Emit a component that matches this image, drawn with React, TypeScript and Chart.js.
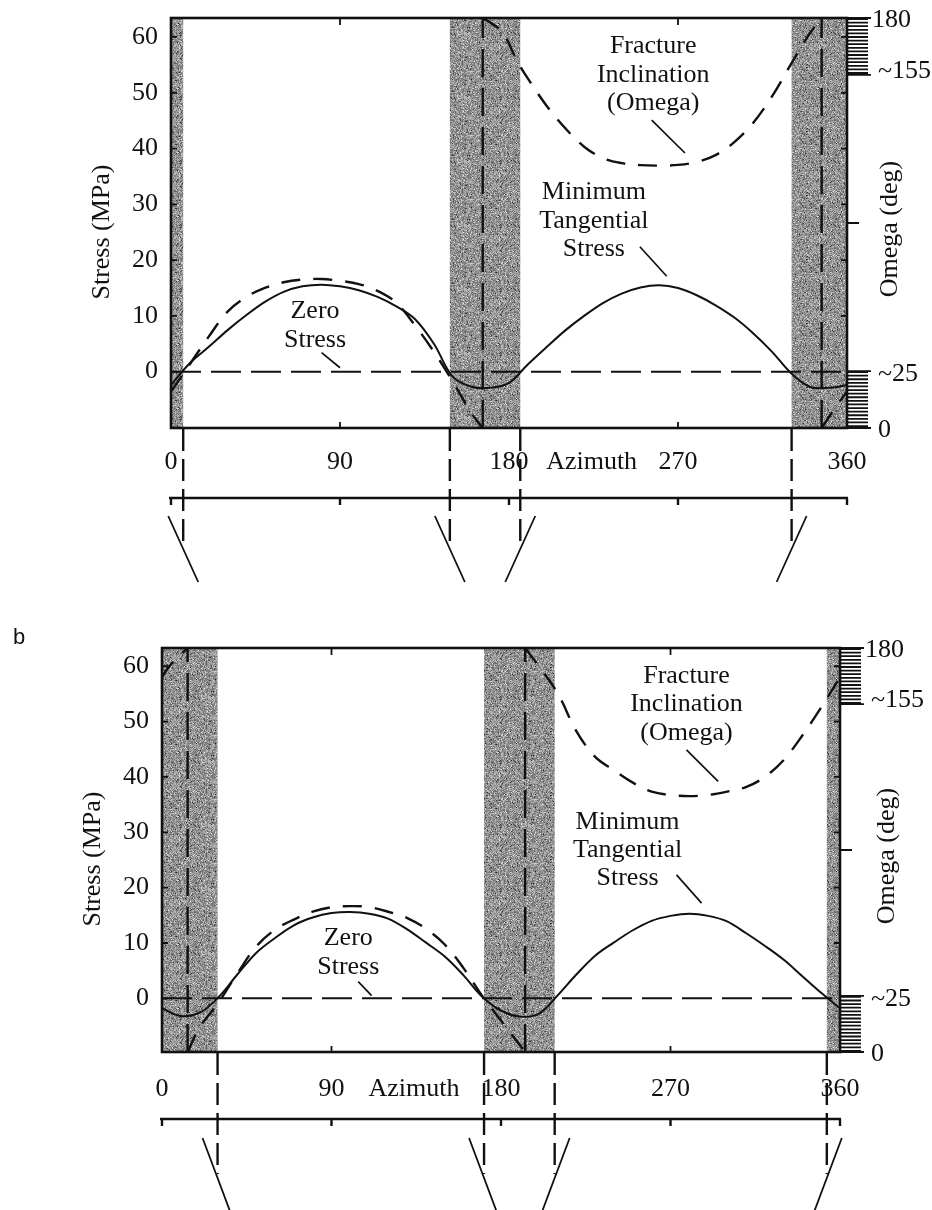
import { useEffect, useRef } from "react";
import { Chart, registerables } from "chart.js";

Chart.register(...registerables);

const SERIF = '"Liberation Serif", "Times New Roman", serif';
const INK = "#111111";

// ---- shared axes ----
const azimuthTicks = [0, 90, 180, 270, 360];
const azimuthTickLabels = ["0", "90", "180", "270", "360"];
const frameAzimuthTicks = [90, 270];
const stressTicks = [0, 10, 20, 30, 40, 50, 60];
const stressTickLabels = ["0", "10", "20", "30", "40", "50", "60"];
const omegaMarks = [180, 155, 25, 0];
const omegaMarkLabels = ["180", "~155", "~25", "0"];
const omegaHatchRanges = [[155, 180], [0, 25]];
const omegaMidTick = 90;

// azimuth samples (deg) for the stress curves
const azimuthSamples = [
  0, 10, 20, 30, 40, 50, 60, 70, 80, 90, 100, 110, 120, 130, 140, 150, 160, 170, 180,
  190, 200, 210, 220, 230, 240, 250, 260, 270, 280, 290, 300, 310, 320, 330, 340, 350, 360,
];

// ---- panel a ----
const stressA = [
  -2.4, 1.5, 4.4, 7.4, 10.1, 12.5, 14.3, 15.3, 15.6, 15.3, 14.6, 13.4, 11.7, 9.4, 5.0, -0.9, -2.7, -2.9, -2.0,
  1.3, 4.4, 7.4, 10.0, 12.3, 14.0, 15.1, 15.5, 15.0, 13.7, 11.9, 9.7, 6.9, 3.6, -0.2, -2.7, -2.9, -2.4,
];
const omegaA1Az = [0, 10, 20, 30, 40, 50, 60, 70, 80, 90, 100, 110, 120, 130, 140, 150, 160, 166];
const omegaA1 = [16, 28, 40, 51, 57.5, 61.5, 64, 65.2, 65.4, 64.6, 63.2, 60.2, 55, 45, 33.5, 20.5, 6.5, 0];
const omegaA2Az = [166, 170, 177, 184, 190, 200, 210, 220, 230, 240, 250, 260, 270, 280, 290, 300, 310, 320, 330, 340, 346.5];
const omegaA2 = [180, 178, 173.3, 161.6, 153.5, 141.5, 131.6, 123.5, 118.5, 116.3, 115.4, 115.2, 115.5, 116.8, 119.8, 125.5, 133.9, 145.5, 159.5, 173, 180];
const omegaA3Az = [346.5, 353, 360];
const omegaA3 = [0, 8, 16];
const omegaWrapA = [166, 346.5];
const zeroCrossA = [6.5, 148.5, 186, 330.5];
const bandsA = [[0, 6.5], [148.5, 186], [330.5, 360]];

// ---- panel b ----
const stressB = [
  -1.8, -3.2, -2.6, 0.2, 4.3, 8.2, 10.9, 13.2, 14.6, 15.4, 15.6, 15.3, 14.4, 12.5, 10.1, 7.6, 4.2, 0.3, -2.2,
  -3.3, -2.8, 0.5, 4.3, 7.7, 10.1, 12.3, 14.0, 14.9, 15.3, 14.9, 13.9, 11.8, 9.5, 7.0, 4.0, 1.0, -1.8,
];
const omegaB1Az = [13.6, 20, 30, 40, 50, 60, 70, 80, 90, 100, 110, 120, 130, 140, 150, 160, 170, 180, 192.8];
const omegaB1 = [0, 11, 22, 35, 47, 54.5, 59, 62.5, 64.5, 65, 64.6, 62.5, 59.8, 55, 48, 37.5, 25, 14, 0];
const omegaB2Az = [192.8, 200, 210, 220, 230, 240, 250, 260, 270, 280, 290, 300, 310, 320, 330, 340, 350, 360];
const omegaB2 = [180, 172, 160, 143, 131.5, 125.5, 120, 116, 114.5, 114, 114.5, 116, 118, 122.5, 130, 141, 153.5, 167];
const omegaB3Az = [0, 5, 13.6];
const omegaB3 = [167, 173, 180];
const omegaWrapB = [13.6, 192.8];
const zeroCrossB = [29.5, 171, 208.5, 353];
const bandsB = [[0, 29.5], [171, 208.5], [353, 360]];

// ---- annotation text, anchored in (azimuth, stress) ----
const notesA = [
  { lines: ["Zero", "Stress"], az: 76.7, stress: 10.8, leader: [80.2, 3.4, 90, 0.7] },
  { lines: ["Minimum", "Tangential", "Stress"], az: 225.2, stress: 32.1, leader: [249.7, 22.4, 264, 17.1] },
  { lines: ["Fracture", "Inclination", "(Omega)"], az: 256.8, stress: 58.3, leader: [256, 45.1, 273.7, 39.2] },
];
const notesB = [
  { lines: ["Zero", "Stress"], az: 98.9, stress: 10.8, leader: [104.2, 3.0, 111.3, 0.5] },
  { lines: ["Minimum", "Tangential", "Stress"], az: 247.2, stress: 31.9, leader: [273.2, 22.3, 286.5, 17.2] },
  { lines: ["Fracture", "Inclination", "(Omega)"], az: 278.5, stress: 58.2, leader: [278.5, 44.9, 295.3, 39.2] },
];

const toPoints = (xs: number[], ys: number[]) => xs.map((x, i) => ({ x, y: ys[i] }));

type PanelCfg = {
  key: string;
  canvasTop: number;
  height: number;
  pad: { left: number; right: number; top: number; bottom: number };
  stressMin: number;
  stressMax: number;
  stress: number[];
  omegaBranches: [number[], number[]][];
  omegaWraps: number[];
  crossings: number[];
  bands: number[][];
  notes: { lines: string[]; az: number; stress: number; leader: number[] }[];
  azimuthTitleAz: number;
  labelGap: number;
  rulerGap: number;
  dropLen: number;
  slantCenter: number;
  slantHalfH: number;
  slantHalfW: number;
  stressTitleX: number;
  omegaTitleDx: number;
  tag?: string;
};

const panels: PanelCfg[] = [
  {
    key: "a",
    canvasTop: 0,
    height: 600,
    pad: { left: 171, right: 85, top: 18, bottom: 172 },
    stressMin: -10.1,
    stressMax: 63.4,
    stress: stressA,
    omegaBranches: [[omegaA1Az, omegaA1], [omegaA2Az, omegaA2], [omegaA3Az, omegaA3]],
    omegaWraps: omegaWrapA,
    crossings: zeroCrossA,
    bands: bandsA,
    notes: notesA,
    azimuthTitleAz: 224,
    labelGap: 34,
    rulerGap: 70,
    dropLen: 120,
    slantCenter: 121,
    slantHalfH: 33,
    slantHalfW: 15,
    stressTitleX: 102,
    omegaTitleDx: 43,
  },
  {
    key: "b",
    canvasTop: 600,
    height: 610,
    pad: { left: 162, right: 92, top: 48, bottom: 158 },
    stressMin: -9.7,
    stressMax: 63.3,
    stress: stressB,
    omegaBranches: [[omegaB1Az, omegaB1], [omegaB2Az, omegaB2], [omegaB3Az, omegaB3]],
    omegaWraps: omegaWrapB,
    crossings: zeroCrossB,
    bands: bandsB,
    notes: notesB,
    azimuthTitleAz: 133.8,
    labelGap: 37,
    rulerGap: 67,
    dropLen: 122,
    slantCenter: 126,
    slantHalfH: 40,
    slantHalfW: 15,
    stressTitleX: 93,
    omegaTitleDx: 47,
    tag: "b",
  },
];

// grainy grey fill for the shaded azimuth bands
function makeStipple(ctx: CanvasRenderingContext2D) {
  const size = 64;
  const c = document.createElement("canvas");
  c.width = size;
  c.height = size;
  const g = c.getContext("2d")!;
  const img = g.createImageData(size, size);
  for (let yy = 0; yy < size; yy++) {
    for (let xx = 0; xx < size; xx++) {
      let h = Math.imul(xx + 1, 374761393) ^ Math.imul(yy + 7, 668265263);
      h = Math.imul(h ^ (h >>> 13), 1274126177);
      h ^= h >>> 16;
      const v = (h >>> 0) & 255;
      let gray = 98 + Math.round(v * 0.38);
      if (v > 248) gray = 225;
      if (v < 8) gray = 55;
      const i = (yy * size + xx) * 4;
      img.data[i] = gray;
      img.data[i + 1] = gray;
      img.data[i + 2] = gray;
      img.data[i + 3] = 255;
    }
  }
  g.putImageData(img, 0, 0);
  return ctx.createPattern(c, "repeat");
}

function decorPlugin(p: PanelCfg) {
  return {
    id: "panelDecor",
    beforeDatasetsDraw(chart: any) {
      const { ctx, chartArea } = chart;
      const { top, bottom } = chartArea;
      const xs = chart.scales.x;
      ctx.save();
      ctx.fillStyle = makeStipple(ctx) || "#8c8c8c";
      for (const [a, b] of p.bands) {
        const x0 = xs.getPixelForValue(a);
        const x1 = xs.getPixelForValue(b);
        ctx.fillRect(x0, top, x1 - x0, bottom - top);
      }
      ctx.restore();
    },
    afterDatasetsDraw(chart: any) {
      const { ctx, chartArea } = chart;
      const { left, right, top, bottom } = chartArea;
      const xs = chart.scales.x;
      const ys = chart.scales.y;
      const yo = chart.scales.y2;
      ctx.save();
      ctx.strokeStyle = INK;
      ctx.fillStyle = INK;
      ctx.lineCap = "butt";

      // frame
      ctx.lineWidth = 2.6;
      ctx.strokeRect(left, top, right - left, bottom - top);

      // tick marks
      ctx.lineWidth = 1.8;
      ctx.beginPath();
      for (const s of stressTicks) {
        const y = ys.getPixelForValue(s);
        ctx.moveTo(left, y);
        ctx.lineTo(left + 6, y);
        if (s > 0) {
          ctx.moveTo(right, y);
          ctx.lineTo(right - 6, y);
        }
      }
      for (const a of frameAzimuthTicks) {
        const x = xs.getPixelForValue(a);
        ctx.moveTo(x, top);
        ctx.lineTo(x, top + 7);
        ctx.moveTo(x, bottom);
        ctx.lineTo(x, bottom - 6);
      }
      const yMid = yo.getPixelForValue(omegaMidTick);
      ctx.moveTo(right, yMid);
      ctx.lineTo(right + 12, yMid);
      ctx.stroke();

      // hatched omega ranges on the right axis
      ctx.lineWidth = 1.8;
      ctx.beginPath();
      for (const [lo, hi] of omegaHatchRanges) {
        const yTop = yo.getPixelForValue(hi);
        const yBot = yo.getPixelForValue(lo);
        for (let y = yTop + 1; y <= yBot; y += 3.6) {
          ctx.moveTo(right, y);
          ctx.lineTo(right + 21, y);
        }
      }
      for (const m of omegaMarks) {
        const y = yo.getPixelForValue(m);
        ctx.moveTo(right, y);
        ctx.lineTo(right + 24, y);
      }
      ctx.stroke();

      // tick labels
      ctx.font = `26px ${SERIF}`;
      ctx.textBaseline = "middle";
      ctx.textAlign = "right";
      stressTicks.forEach((s, i) => {
        ctx.fillText(stressTickLabels[i], left - 13, ys.getPixelForValue(s));
      });
      ctx.textAlign = "left";
      const omegaLabelShift = [2, -4, 3, 2];
      omegaMarks.forEach((m, i) => {
        const dx = i === 0 ? 25 : 31;
        ctx.fillText(omegaMarkLabels[i], right + dx, yo.getPixelForValue(m) + omegaLabelShift[i]);
      });

      // axis titles
      const midY = (top + bottom) / 2;
      ctx.textAlign = "center";
      ctx.save();
      ctx.translate(p.stressTitleX, midY + 9);
      ctx.rotate(-Math.PI / 2);
      ctx.fillText("Stress (MPa)", 0, 0);
      ctx.restore();
      ctx.save();
      ctx.translate(right + p.omegaTitleDx, midY + 6);
      ctx.rotate(-Math.PI / 2);
      ctx.fillText("Omega (deg)", 0, 0);
      ctx.restore();

      // azimuth labels below the plot
      const yLab = bottom + p.labelGap;
      azimuthTicks.forEach((a, i) => {
        ctx.fillText(azimuthTickLabels[i], xs.getPixelForValue(a), yLab);
      });
      ctx.fillText("Azimuth", xs.getPixelForValue(p.azimuthTitleAz), yLab);

      // annotations with leader lines
      for (const n of p.notes) {
        const x = xs.getPixelForValue(n.az);
        const y0 = ys.getPixelForValue(n.stress);
        n.lines.forEach((t, i) => ctx.fillText(t, x, y0 + i * 28.4));
      }
      ctx.lineWidth = 1.7;
      ctx.beginPath();
      for (const n of p.notes) {
        const [a1, s1, a2, s2] = n.leader;
        ctx.moveTo(xs.getPixelForValue(a1), ys.getPixelForValue(s1));
        ctx.lineTo(xs.getPixelForValue(a2), ys.getPixelForValue(s2));
      }
      ctx.stroke();

      // second azimuth ruler
      const yr = bottom + p.rulerGap;
      ctx.lineWidth = 2.4;
      ctx.beginPath();
      ctx.moveTo(xs.getPixelForValue(0) - 2, yr);
      ctx.lineTo(xs.getPixelForValue(360) + 1, yr);
      for (const a of azimuthTicks) {
        const x = xs.getPixelForValue(a);
        ctx.moveTo(x, yr);
        ctx.lineTo(x, yr + 7);
      }
      ctx.stroke();

      // dashed drops at the zero-stress azimuths
      ctx.lineWidth = 2.4;
      ctx.setLineDash([22, 8]);
      ctx.beginPath();
      for (const c of p.crossings) {
        const x = xs.getPixelForValue(c);
        ctx.moveTo(x, bottom + 1);
        ctx.lineTo(x, bottom + p.dropLen);
      }
      ctx.stroke();
      ctx.setLineDash([]);

      // fracture traces
      ctx.lineWidth = 1.8;
      ctx.beginPath();
      for (const c of p.crossings) {
        const x = xs.getPixelForValue(c);
        const s = c < 180 ? 1 : -1;
        const yc = bottom + p.slantCenter;
        ctx.moveTo(x - s * p.slantHalfW, yc - p.slantHalfH);
        ctx.lineTo(x + s * p.slantHalfW, yc + p.slantHalfH);
      }
      ctx.stroke();

      if (p.tag) {
        ctx.font = `22px "Liberation Sans", Arial, sans-serif`;
        ctx.textAlign = "center";
        ctx.fillText(p.tag, 19, top - 10);
      }
      ctx.restore();
    },
  };
}

function buildConfig(p: PanelCfg): any {
  const datasets: any[] = [
    {
      label: "Zero Stress",
      data: [{ x: 0, y: 0 }, { x: 360, y: 0 }],
      yAxisID: "y",
      borderColor: INK,
      borderWidth: 2,
      borderDash: [30, 10],
      pointRadius: 0,
    },
    {
      label: "Minimum Tangential Stress",
      data: toPoints(azimuthSamples, p.stress),
      yAxisID: "y",
      borderColor: INK,
      borderWidth: 2,
      tension: 0.35,
      pointRadius: 0,
    },
  ];
  p.omegaBranches.forEach(([az, om], i) => {
    datasets.push({
      label: `Omega ${i + 1}`,
      data: toPoints(az, om),
      yAxisID: "y2",
      borderColor: INK,
      borderWidth: 2.4,
      borderDash: [19, 13],
      tension: 0.35,
      pointRadius: 0,
    });
  });
  p.omegaWraps.forEach((w, i) => {
    datasets.push({
      label: `Omega wrap ${i + 1}`,
      data: [{ x: w, y: 0 }, { x: w, y: 180 }],
      yAxisID: "y2",
      borderColor: INK,
      borderWidth: 2.4,
      borderDash: [28, 11],
      pointRadius: 0,
    });
  });

  return {
    type: "line",
    data: { datasets },
    options: {
      animation: false,
      responsive: false,
      maintainAspectRatio: false,
      devicePixelRatio: 1,
      events: [],
      layout: { padding: p.pad },
      plugins: {
        legend: { display: false },
        tooltip: { enabled: false },
        title: { display: false },
      },
      scales: {
        x: { type: "linear", min: 0, max: 360, display: false },
        y: { type: "linear", min: p.stressMin, max: p.stressMax, display: false },
        y2: { type: "linear", min: 0, max: 180, display: false },
      },
    },
    plugins: [decorPlugin(p)],
  };
}

function Panel({ cfg }: { cfg: PanelCfg }) {
  const ref = useRef<HTMLCanvasElement>(null);
  useEffect(() => {
    const chart = new Chart(ref.current as HTMLCanvasElement, buildConfig(cfg));
    return () => chart.destroy();
  }, [cfg]);
  return (
    <canvas
      ref={ref}
      width={932}
      height={cfg.height}
      style={{ position: "absolute", left: 0, top: cfg.canvasTop, width: 932, height: cfg.height, display: "block" }}
    />
  );
}

export default function App() {
  return (
    <div
      style={{
        position: "absolute",
        left: 0,
        top: 0,
        width: 932,
        height: 1210,
        background: "#ffffff",
        overflow: "hidden",
      }}
    >
      {panels.map((p) => (
        <Panel key={p.key} cfg={p} />
      ))}
    </div>
  );
}
